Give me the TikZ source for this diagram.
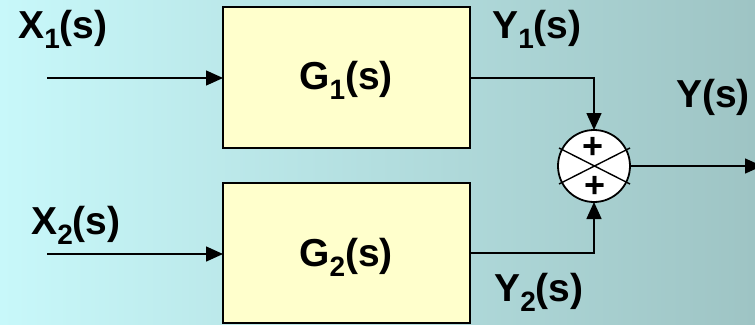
\documentclass[tikz,border=0pt]{standalone}
\usepackage{fontspec}
\setmainfont{Liberation Sans}
\usetikzlibrary{arrows.meta}
\definecolor{bgleft}{RGB}{200,248,250}
\definecolor{bgright}{RGB}{158,196,196}
\definecolor{blockfill}{RGB}{255,255,204}
\newcommand{\sig}[2]{#1\raisebox{-0.25em}{\fontsize{28}{28}\selectfont #2}(s)}
\tikzset{
  x=1pt, y=-1pt,
  lbl/.style={font=\fontsize{39}{39}\bfseries\selectfont, inner sep=0pt},
  block/.style={draw, line width=1.3pt, fill=blockfill},
  sig/.style={line width=1.5pt, -{Triangle[length=17pt,width=15pt]}},
  plus/.style={font=\fontsize{36}{36}\bfseries\selectfont, inner sep=0pt}
}
\begin{document}
\begin{tikzpicture}
  % background with horizontal gradient
  \shade[left color=bgleft, right color=bgright] (0,0) rectangle (755,324);
  \useasboundingbox (0,0) rectangle (755,324);

  % blocks
  \draw[block] (223,7) rectangle (470,148);
  \draw[block] (223,183) rectangle (470,323);
  \node[lbl] (g1) at (346,80) {\sig{G}{1}};
  \node[lbl] (g2) at (346,257) {\sig{G}{2}};

  % summing junction
  \coordinate (c) at (594,166);
  \draw[line width=1.8pt, fill=white] (c) circle (36);
  \draw[line width=1.4pt] (559,148) -- (630,184);
  \draw[line width=1.4pt] (559,184) -- (630,148);
  \node[plus] (p1) at (593,148) {+};
  \node[plus] (p2) at (595,187) {+};

  % coordinates for connectors
  \coordinate (x1s) at (47,78);
  \coordinate (x1e) at (223,78);
  \coordinate (x2s) at (47,254);
  \coordinate (x2e) at (223,254);
  \coordinate (y1s) at (470,78);
  \coordinate (y1c) at (594,78);
  \coordinate (ctop) at (594,130);
  \coordinate (y2s) at (470,253);
  \coordinate (y2c) at (594,253);
  \coordinate (cbot) at (594,202);
  \coordinate (cright) at (630,166);
  \coordinate (out) at (762,166);

  % connectors
  \draw[sig] (x1s) -- (x1e);
  \draw[sig] (x2s) -- (x2e);
  \draw[sig] (y1s) -- (y1c) -- (ctop);
  \draw[sig] (y2s) -- (y2c) -- (cbot);
  \draw[sig] (cright) -- (out);

  % signal labels
  \node[lbl] (lx1) at (63,29) {\sig{X}{1}};
  \node[lbl] (lx2) at (76,225) {\sig{X}{2}};
  \node[lbl] (ly1) at (537,29) {\sig{Y}{1}};
  \node[lbl] (ly2) at (539,292) {\sig{Y}{2}};
  \node[lbl] (ly) at (713,97) {Y(s)};
\end{tikzpicture}
\end{document}
